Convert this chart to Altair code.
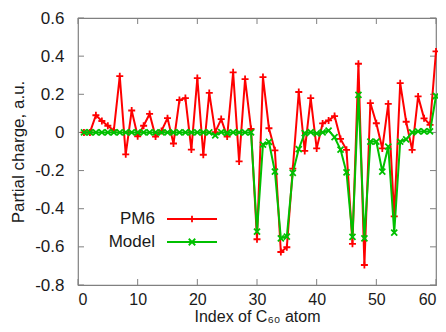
import altair as alt
import pandas as pd

# ---- data ----
idx = list(range(1, 61))
pm6 = [0.0, 0.0, 0.09, 0.06, 0.035, 0.01, 0.295, -0.115, 0.115, -0.02,
       0.035, 0.097, -0.022, 0.008, 0.075, -0.058, 0.17, 0.18, -0.09, 0.285,
       -0.117, 0.207, 0.002, 0.07, -0.022, 0.315, -0.152, 0.28, 0.018, -0.56,
       0.29, 0.022, -0.094, -0.627, -0.602, -0.19, 0.212, -0.097, 0.18, -0.084,
       0.047, 0.063, 0.086, -0.034, -0.091, -0.584, 0.36, -0.695, 0.154, 0.048,
       -0.084, 0.15, -0.44, 0.258, 0.056, -0.091, 0.189, 0.074, 0.04, 0.425]
model = [0.0, 0.0, 0.0, 0.0, 0.0, 0.0, 0.0, 0.0, 0.0, 0.0,
         0.0, 0.0, 0.0, 0.0, 0.0, 0.0, 0.0, 0.0, 0.0, 0.0,
         0.0, 0.0, -0.015, 0.002, -0.003, 0.0, 0.0, 0.0, 0.0, -0.52,
         -0.064, -0.05, -0.205, -0.555, -0.546, -0.212, -0.087, -0.004, 0.002, -0.005,
         0.0, 0.01, -0.025, -0.09, -0.21, -0.548, 0.197, -0.555, -0.048, -0.048,
         -0.205, -0.074, -0.525, -0.048, -0.036, 0.0, 0.005, 0.005, 0.005, 0.191]
series_names = ["PM6", "Model"]
series_colors = ["#ff0000", "#00c000"]
x_ticks = [0, 10, 20, 30, 40, 50, 60]
y_ticks = [-0.8, -0.6, -0.4, -0.2, 0, 0.2, 0.4, 0.6]

W, H = 358, 267
FONT = "Liberation Sans"
FS = 17
FRAME = "#808080"

df = pd.DataFrame({"idx": idx, "PM6": pm6, "Model": model})
xt = pd.DataFrame({"v": x_ticks})
yt = pd.DataFrame({"v": y_ticks})

xs = alt.Scale(domain=[0, 60], nice=False, zero=False)
ys = alt.Scale(domain=[-0.8, 0.6], nice=False, zero=False)

xaxis = alt.Axis(values=x_ticks, title="Index of C₆₀ atom", domain=False, ticks=False,
                 grid=False, labelPadding=6, format="d", labelOverlap=False,
                 labelFontSize=16, titleFontSize=16,
                 titleY=36, titleBaseline="alphabetic")
yaxis = alt.Axis(values=y_ticks, title="Partial charge, a.u.", domain=False, ticks=False,
                 grid=False, labelPadding=14, titlePadding=7, labelOverlap=False,
                 labelExpr="datum.value == 0 ? '0' : (datum.value < 0 ? '-' + format(-datum.value, '.1f') : format(datum.value, '.1f'))")

plus_path = "M-1,0L1,0M0,-1L0,1"
x_path = "M-1,-1L1,1M-1,1L1,-1"

base = alt.Chart(df)

def X(f):
    return alt.X(f, scale=xs, axis=xaxis, title="Index of C₆₀ atom")

def Y(f):
    return alt.Y(f, scale=ys, axis=yaxis, title="Partial charge, a.u.")

def series(col, color, shape, size):
    line = base.mark_line(color=color, strokeWidth=2).encode(
        x=X("idx:Q"), y=Y(f"{col}:Q"))
    pts = base.mark_point(shape=shape, filled=False, color=color, strokeWidth=1.8,
                          size=size, opacity=1).encode(
        x=X("idx:Q"), y=Y(f"{col}:Q"))
    return [line, pts]

tick_len = 6
tl = alt.Chart(yt).mark_rule(color=FRAME, strokeWidth=1).encode(
    y=Y("v:Q"), x=alt.value(0), x2=alt.value(tick_len))
tr = alt.Chart(yt).mark_rule(color=FRAME, strokeWidth=1).encode(
    y=Y("v:Q"), x=alt.value(W - tick_len), x2=alt.value(W))
tb = alt.Chart(xt).mark_rule(color=FRAME, strokeWidth=1).encode(
    x=X("v:Q"), y=alt.value(H - tick_len), y2=alt.value(H))
tt = alt.Chart(xt).mark_rule(color=FRAME, strokeWidth=1).encode(
    x=X("v:Q"), y=alt.value(0), y2=alt.value(tick_len))

# ---- legend (inside plot) ----
leg_layers = []
leg_y = [201, 224]
shapes = [plus_path, x_path]
for name, color, yy, shp in zip(series_names, series_colors, leg_y, shapes):
    ldf = pd.DataFrame({"label": [name]})
    lc = alt.Chart(ldf)
    leg_layers.append(lc.mark_text(align="right", baseline="middle", font=FONT,
                                   fontSize=FS, color="#1a1a1a").encode(
        x=alt.value(77), y=alt.value(yy), text="label:N"))
    leg_layers.append(lc.mark_rule(color=color, strokeWidth=2).encode(
        x=alt.value(89), x2=alt.value(139), y=alt.value(yy)))
    leg_layers.append(lc.mark_point(shape=shp, filled=False, color=color, strokeWidth=1.8,
                                    size=42, opacity=1).encode(
        x=alt.value(114), y=alt.value(yy)))

layers = [tl, tr, tb, tt]
layers += series("PM6", series_colors[0], plus_path, 49)
layers += series("Model", series_colors[1], x_path, 36)
layers += leg_layers

chart = alt.layer(*layers).properties(
    width=W, height=H,
    autosize=alt.AutoSizeParams(type="none"),
    padding={"left": 70, "top": 10, "right": 2, "bottom": 39},
).configure_view(stroke=FRAME, strokeWidth=1.2).configure_axis(
    labelFont=FONT, titleFont=FONT, labelFontSize=FS, titleFontSize=FS,
    labelColor="#1a1a1a", titleColor="#1a1a1a", titleFontWeight="normal",
)

chart.save("out.html", embed_options={"renderer": "svg", "actions": False})
